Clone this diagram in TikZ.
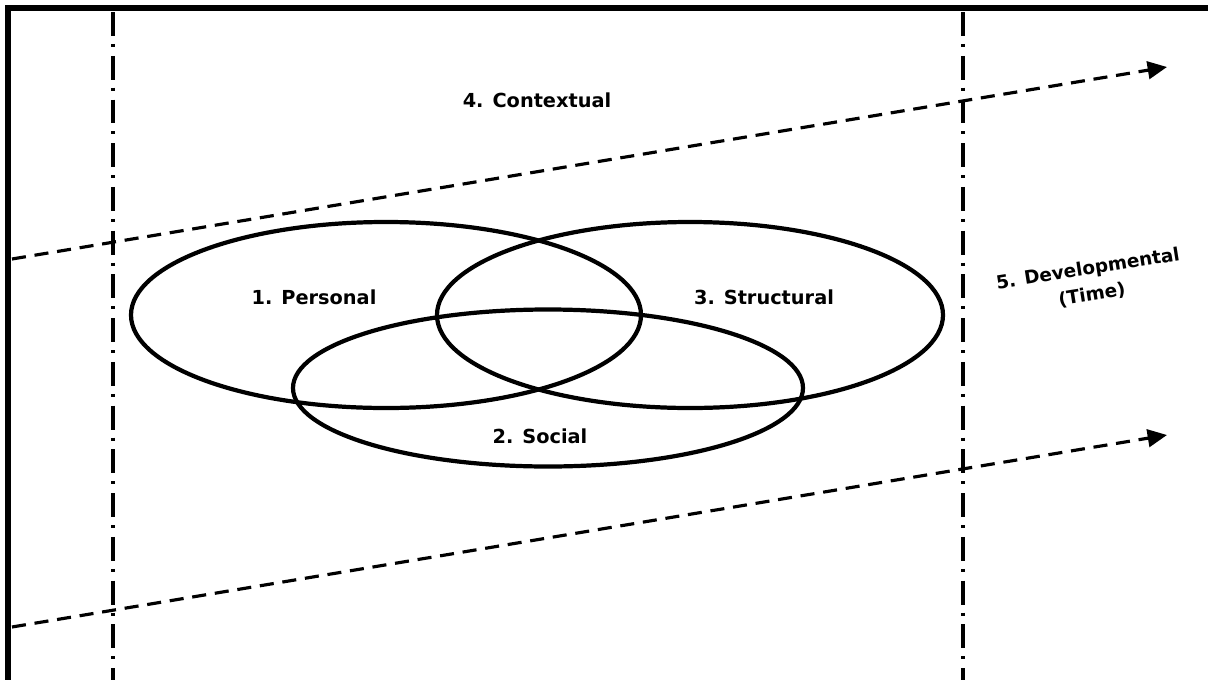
\documentclass[tikz,border=0pt]{standalone}
\usepackage{fontspec}
\newfontfamily\lblfont{DejaVu Sans}
\usetikzlibrary{shapes.geometric,arrows.meta,positioning}

\begin{document}
\begin{tikzpicture}[
    x=0.02cm, y=-0.02cm,
    ring/.style={ellipse, draw=black, line width=2.4pt, inner sep=0pt},
    lbl/.style={font=\lblfont\bfseries\fontsize{11}{14}\selectfont, align=center},
    divider/.style={line width=2.3pt, dash pattern=on 13.6pt off 4.5pt on 1.7pt off 5.1pt},
    flow/.style={-{Triangle[length=11pt,width=10pt]}, line width=1.8pt, dash pattern=on 8pt off 5pt},
]
\useasboundingbox (0,0) rectangle (1208,680);
% frame
\draw[line width=3.4pt] (8,680) -- (8,8) -- (1208,8);
% time borders
\coordinate (l1) at (113,12);
\coordinate (l2) at (113,680);
\coordinate (r1) at (963,12);
\coordinate (r2) at (963,680);
\draw[divider] (l1) -- (l2);
\draw[divider] (r1) -- (r2);
% context arrows
\coordinate (a1) at (12,259);
\coordinate (a2) at (1167,67);
\coordinate (b1) at (12,627);
\coordinate (b2) at (1167,435);
\draw[flow] (a1) -- (a2);
\draw[flow] (b1) -- (b2);
% circles
\node[ring, minimum width=510*0.02cm, minimum height=186*0.02cm] (personal) at (386,315) {};
\node[ring, minimum width=506*0.02cm, minimum height=186*0.02cm] (structural) at (690,315) {};
\node[ring, minimum width=510*0.02cm, minimum height=157*0.02cm] (social) at (548,388) {};
% labels
\node[lbl] (personalL) at (314,297) {1. Personal};
\node[lbl] (structuralL) at (764,297) {3. Structural};
\node[lbl] (socialL) at (540,436) {2. Social};
\node[lbl] (context) at (537,100) {4. Contextual};
\node[lbl, rotate=9, font=\lblfont\bfseries\fontsize{10.5}{15}\selectfont] (develop) at (1090,282) {5. Developmental\\(Time)};
\end{tikzpicture}
\end{document}
